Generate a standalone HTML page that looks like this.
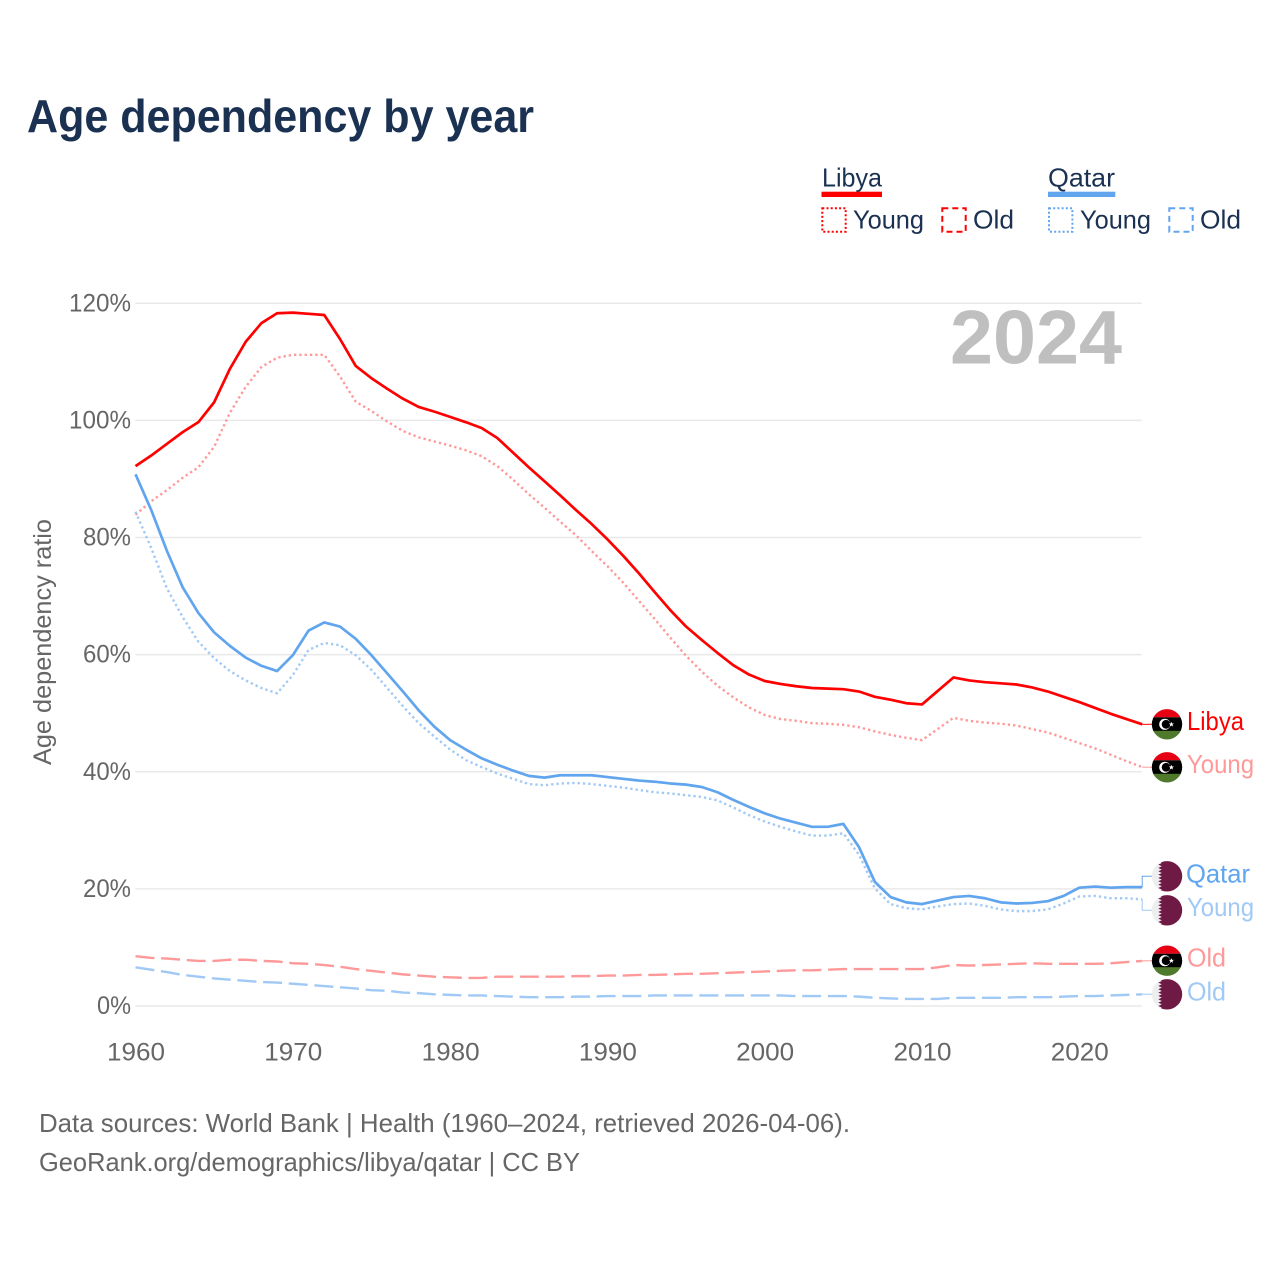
<!DOCTYPE html>
<html lang="en">
<head>
<meta charset="utf-8">
<title>Age dependency by year</title>
<style>
html,body{margin:0;padding:0;background:#fff;width:1280px;height:1280px;overflow:hidden}
svg{display:block;font-family:"Liberation Sans",sans-serif}
</style>
</head>
<body>
<svg id="chart" width="1280" height="1280" viewBox="0 0 1280 1280" xmlns="http://www.w3.org/2000/svg">
  <rect x="0" y="0" width="1280" height="1280" fill="#ffffff"/>
  <text x="27" y="132" font-size="46" font-weight="700" fill="#1a3152" textLength="507" lengthAdjust="spacingAndGlyphs">Age dependency by year</text>

  <g font-size="26" fill="#1a3152">
    <text x="822" y="186.5" textLength="60" lengthAdjust="spacingAndGlyphs">Libya</text>
    <rect x="821.5" y="191.7" width="60.5" height="5.3" fill="#ff0000"/>
    <rect x="822.3" y="208.3" width="23.4" height="23.4" fill="none" stroke="#ff0000" stroke-width="2" stroke-dasharray="2 2.2"/>
    <text x="853" y="228.3" textLength="71" lengthAdjust="spacingAndGlyphs">Young</text>
    <rect x="942.3" y="208.3" width="23.4" height="23.4" fill="none" stroke="#ff0000" stroke-width="2" stroke-dasharray="6 4"/>
    <text x="973" y="228.3" textLength="41" lengthAdjust="spacingAndGlyphs">Old</text>
    <text x="1048" y="186.5" textLength="67" lengthAdjust="spacingAndGlyphs">Qatar</text>
    <rect x="1048" y="191.7" width="67.3" height="5.3" fill="#60a5ee"/>
    <rect x="1049" y="208.3" width="23.4" height="23.4" fill="none" stroke="#60a5ee" stroke-width="2" stroke-dasharray="2 2.2"/>
    <text x="1080" y="228.3" textLength="71" lengthAdjust="spacingAndGlyphs">Young</text>
    <rect x="1169.3" y="208.3" width="23.4" height="23.4" fill="none" stroke="#60a5ee" stroke-width="2" stroke-dasharray="6 4"/>
    <text x="1200" y="228.3" textLength="41" lengthAdjust="spacingAndGlyphs">Old</text>
  </g>

  <text transform="translate(51,642) rotate(-90)" text-anchor="middle" font-size="25" fill="#666666" textLength="246" lengthAdjust="spacingAndGlyphs">Age dependency ratio</text>

  <g id="grid"></g>
  <g id="yticks"></g>
  <g id="xticks"></g>

  <text x="950" y="363.5" font-size="76" font-weight="700" fill="#bfbfbf" textLength="172" lengthAdjust="spacingAndGlyphs">2024</text>

  <g id="series"></g>
  <g id="flags"></g>

  <g font-size="26">
    <text x="1187" y="730" fill="#ff0000" textLength="57" lengthAdjust="spacingAndGlyphs">Libya</text>
    <text x="1187" y="773" fill="#ff9999" textLength="67" lengthAdjust="spacingAndGlyphs">Young</text>
    <text x="1186" y="882.5" fill="#60a5ee" textLength="64" lengthAdjust="spacingAndGlyphs">Qatar</text>
    <text x="1187" y="916" fill="#a0c9f5" textLength="67" lengthAdjust="spacingAndGlyphs">Young</text>
    <text x="1187" y="966.5" fill="#ff9999" textLength="39" lengthAdjust="spacingAndGlyphs">Old</text>
    <text x="1187" y="1000.5" fill="#a0c9f5" textLength="39" lengthAdjust="spacingAndGlyphs">Old</text>
  </g>

  <g font-size="26" fill="#666666">
    <text x="39" y="1132" textLength="811" lengthAdjust="spacingAndGlyphs">Data sources: World Bank | Health (1960–2024, retrieved 2026-04-06).</text>
    <text x="39" y="1171" textLength="541" lengthAdjust="spacingAndGlyphs">GeoRank.org/demographics/libya/qatar | CC BY</text>
  </g>
</svg>
<script>
var firstYear = 1960;
var yTickValues = [0, 20, 40, 60, 80, 100, 120];
var xTickValues = [1960, 1970, 1980, 1990, 2000, 2010, 2020];
var yTickLabels = ["0%", "20%", "40%", "60%", "80%", "100%", "120%"];
var xTickLabels = ["1960", "1970", "1980", "1990", "2000", "2010", "2020"];

var libyaTotal = [92.2,94.0,96.0,98.0,99.7,103.1,108.8,113.4,116.6,118.3,118.4,118.2,118.0,113.9,109.3,107.2,105.4,103.7,102.3,101.5,100.6,99.7,98.7,97.0,94.5,92.0,89.6,87.2,84.7,82.3,79.7,76.9,73.9,70.7,67.6,64.8,62.5,60.3,58.2,56.6,55.5,55.0,54.6,54.3,54.2,54.1,53.7,52.8,52.3,51.7,51.5,53.8,56.1,55.6,55.3,55.1,54.9,54.4,53.7,52.8,51.9,50.9,49.9,49.0,48.1];
var libyaYoung = [83.9,86.2,88.1,90.2,92.0,95.5,101.3,105.7,109.1,110.7,111.2,111.2,111.2,107.5,103.2,101.6,99.8,98.2,97.1,96.4,95.7,94.9,93.9,92.2,89.9,87.4,85.1,82.7,80.4,77.7,75.1,72.3,69.2,66.1,62.9,59.8,57.1,54.7,52.7,51.0,49.7,49.0,48.7,48.3,48.2,48.0,47.6,46.9,46.3,45.8,45.4,47.3,49.2,48.7,48.4,48.2,47.9,47.3,46.7,45.8,44.9,44.0,42.9,41.8,40.8];
var libyaOld = [8.5,8.2,8.1,7.9,7.7,7.7,7.9,7.9,7.7,7.6,7.3,7.2,7.0,6.7,6.3,6.0,5.7,5.4,5.2,5.0,4.9,4.8,4.8,5.0,5.0,5.0,5.0,5.0,5.1,5.1,5.2,5.2,5.3,5.3,5.4,5.5,5.5,5.6,5.7,5.8,5.9,6.0,6.1,6.1,6.2,6.3,6.3,6.3,6.3,6.3,6.3,6.6,7.0,6.9,7.0,7.1,7.2,7.3,7.2,7.2,7.2,7.2,7.3,7.5,7.7];
var qatarTotal = [90.8,84.7,77.7,71.5,67.1,63.8,61.5,59.5,58.1,57.2,59.9,64.1,65.5,64.8,62.7,59.9,56.8,53.7,50.5,47.7,45.4,43.8,42.3,41.2,40.2,39.3,39.0,39.4,39.4,39.4,39.1,38.8,38.5,38.3,38.0,37.8,37.4,36.5,35.2,34.0,32.9,32.0,31.3,30.6,30.6,31.1,27.1,21.2,18.6,17.7,17.4,18.0,18.6,18.8,18.4,17.7,17.5,17.6,17.9,18.8,20.2,20.4,20.2,20.3,20.3];
var qatarYoung = [84.4,78.2,71.3,66.4,62.2,59.4,57.2,55.6,54.3,53.4,56.5,60.8,62.0,61.6,59.9,57.4,54.3,51.2,48.3,46.0,43.8,42.0,40.8,39.7,38.8,37.9,37.7,38.0,38.1,37.9,37.6,37.3,36.9,36.5,36.3,36.0,35.7,35.1,33.9,32.6,31.5,30.6,29.8,29.1,29.1,29.5,25.8,20.1,17.4,16.7,16.5,17.0,17.4,17.5,17.1,16.5,16.2,16.2,16.5,17.5,18.7,18.8,18.4,18.4,18.2];
var qatarOld = [6.6,6.2,5.8,5.3,5.0,4.7,4.5,4.3,4.1,4.0,3.8,3.6,3.4,3.2,3.0,2.7,2.6,2.3,2.2,2.0,1.9,1.8,1.8,1.7,1.6,1.5,1.5,1.5,1.6,1.6,1.7,1.7,1.7,1.8,1.8,1.8,1.8,1.8,1.8,1.8,1.8,1.8,1.7,1.7,1.7,1.7,1.6,1.4,1.3,1.2,1.2,1.2,1.4,1.4,1.4,1.4,1.5,1.5,1.5,1.6,1.7,1.7,1.8,1.9,2.0];

var NS = "http://www.w3.org/2000/svg";
function xScale(year) { return 135.5 + (year - 1960) * 15.73; }
function yScale(value) { return 1006 - value * 5.856; }
function make(tag, attrs, parent) {
  var el = document.createElementNS(NS, tag);
  for (var k in attrs) el.setAttribute(k, attrs[k]);
  parent.appendChild(el);
  return el;
}

var gridG = document.getElementById("grid");
var yG = document.getElementById("yticks");
var xG = document.getElementById("xticks");

yTickValues.forEach(function (v, i) {
  var line = make("line", { x1: 135.3, x2: 1141.7, y1: yScale(v), y2: yScale(v), stroke: "#e9e9e9", "stroke-width": 1.5 }, gridG);
  
  
  var label = yTickLabels[i];
  var t = make("text", { x: 131, y: yScale(v) + 8, "text-anchor": "end", "font-size": 25, fill: "#666666", textLength: 14 * (label.length - 1) + 20, lengthAdjust: "spacingAndGlyphs" }, yG);
  t.textContent = label;
  
  
});

xTickValues.forEach(function (v, i) {
  var t = make("text", { x: xScale(v) + 0.5, y: 1060.5, "text-anchor": "middle", "font-size": 25, fill: "#666666", textLength: 58, lengthAdjust: "spacingAndGlyphs" }, xG);
  t.textContent = xTickLabels[i];
  
  
});

var seriesG = document.getElementById("series");
function pathFor(values) {
  return values.map(function (v, i) {
    return (i ? "L" : "M") + xScale(firstYear + i).toFixed(2) + " " + yScale(v).toFixed(2);
  }).join("");
}
function drawLine(values, color, width, dash) {
  var p = make("path", { d: pathFor(values), fill: "none", stroke: color, "stroke-width": width, "stroke-linejoin": "round" }, seriesG);
  if (dash) p.setAttribute("stroke-dasharray", dash);
  return p;
}
function drawConnector(values, color, endY, stepped) {
  var lastX = xScale(firstYear + values.length - 1);
  var lastY = yScale(values[values.length - 1]);
  var d = stepped
    ? "M" + lastX + " " + lastY + "V" + endY + "H1152"
    : "M" + lastX + " " + lastY + "L1152 " + endY;
  return make("path", { d: d, fill: "none", stroke: color, "stroke-width": 1 }, seriesG);
}

var lightRed = "#ff9999";
var lightBlue = "#a0c9f5";
var mainBlue = "#60a5ee";
var dotted = "2.3 3";
var dashed = "19 6.7";

var l1 = drawLine(qatarOld, lightBlue, 2.4, dashed);


var l2 = drawLine(libyaOld, lightRed, 2.4, dashed);


var l3 = drawLine(libyaYoung, lightRed, 2.4, dotted);


var l4 = drawLine(qatarYoung, lightBlue, 2.4, dotted);


var l5 = drawLine(qatarTotal, mainBlue, 2.7);


var l6 = drawLine(libyaTotal, "#ff0000", 2.7);



var c1 = drawConnector(libyaTotal, "#ff0000", 724.3, false);


var c2 = drawConnector(libyaYoung, lightRed, 767.3, false);


var c3 = drawConnector(qatarTotal, mainBlue, 876.3, true);


var c4 = drawConnector(qatarYoung, lightBlue, 910.3, true);


var c5 = drawConnector(libyaOld, lightRed, 960.7, false);


var c6 = drawConnector(qatarOld, lightBlue, 994.3, false);



var flagsG = document.getElementById("flags");
var defs = make("defs", {}, flagsG);
var clip = make("clipPath", { id: "flag-clip" }, defs);
make("circle", { cx: 0, cy: 0, r: 15.2 }, clip);

function libyaFlag(cy) {
  var g = make("g", { transform: "translate(1167," + cy + ")", "clip-path": "url(#flag-clip)" }, flagsG);
  make("rect", { x: -16, y: -16, width: 32, height: 9, fill: "#e70013" }, g);
  make("rect", { x: -16, y: -7, width: 32, height: 14, fill: "#000000" }, g);
  make("rect", { x: -16, y: 6.5, width: 32, height: 10, fill: "#4f7a2c" }, g);
  make("circle", { cx: -2.2, cy: 0, r: 5.6, fill: "#ffffff" }, g);
  make("circle", { cx: -0.9, cy: 0, r: 4.4, fill: "#000000" }, g);
  make("polygon", { points: "4.4,-2.6 5.1,-0.8 7,-0.8 5.5,0.4 6,2.3 4.4,1.2 2.8,2.3 3.3,0.4 1.8,-0.8 3.7,-0.8", fill: "#ffffff" }, g);
  return g;
}
function qatarFlag(cy) {
  var g = make("g", { transform: "translate(1167," + cy + ")", "clip-path": "url(#flag-clip)" }, flagsG);
  make("rect", { x: -16, y: -16, width: 32, height: 32, fill: "#eeeeee" }, g);
  var d = "M16 -16 L-8.7 -16";
  for (var i = 0; i < 9; i++) {
    d += "L-5.2 " + (-15 + i * 10 / 3 + 5 / 3).toFixed(2) + "L-8.7 " + (-15 + (i + 1) * 10 / 3).toFixed(2);
  }
  d += "L-8.7 16L16 16Z";
  make("path", { d: d, fill: "#6f1a45" }, g);
  return g;
}

var f1 = libyaFlag(724.3);


var f2 = libyaFlag(767.3);


var f3 = qatarFlag(876.3);


var f4 = qatarFlag(910.3);


var f5 = libyaFlag(960.7);


var f6 = qatarFlag(994.3);


</script>
</body>
</html>
